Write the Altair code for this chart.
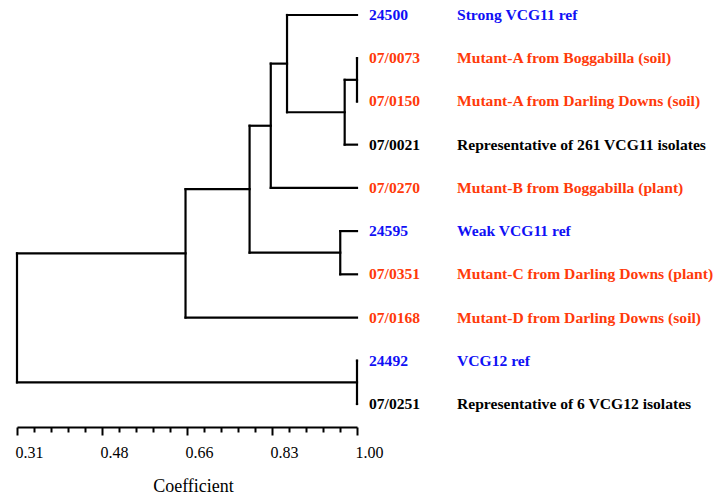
import altair as alt
import pandas as pd

# Leaves, top to bottom
codes = ["24500", "07/0073", "07/0150", "07/0021", "07/0270",
         "24595", "07/0351", "07/0168", "24492", "07/0251"]
descriptions = ["Strong VCG11 ref",
                "Mutant-A from Boggabilla (soil)",
                "Mutant-A from Darling Downs (soil)",
                "Representative of 261 VCG11 isolates",
                "Mutant-B from Boggabilla (plant)",
                "Weak VCG11 ref",
                "Mutant-C from Darling Downs (plant)",
                "Mutant-D from Darling Downs (soil)",
                "VCG12 ref",
                "Representative of 6 VCG12 isolates"]
groups = ["ref", "mutant", "mutant", "rep", "mutant",
          "ref", "mutant", "mutant", "ref", "rep"]

# Merges: (child a, child b, coefficient); leaves are 0-9, new nodes 10+
merge_a = [1, 10, 0, 12, 5, 13, 15, 8, 16]
merge_b = [2, 3, 11, 4, 6, 14, 7, 9, 17]
merge_coef = [1.00, 0.975, 0.858, 0.825, 0.966, 0.782, 0.652, 1.00, 0.31]

tick_values = [0.31, 0.3445, 0.379, 0.4135, 0.448, 0.4825, 0.517, 0.5515,
               0.586, 0.6205, 0.655, 0.6895, 0.724, 0.7585, 0.793, 0.8275,
               0.862, 0.8965, 0.931, 0.9655, 1.0]
major_ticks = [0.31, 0.4825, 0.655, 0.8275, 1.0]

# Build tree geometry
n = len(codes)
node_x = {i: 1.0 for i in range(n)}
node_y = {i: float(i) for i in range(n)}
segs = []
for k, (a, b, c) in enumerate(zip(merge_a, merge_b, merge_coef)):
    nid = n + k
    node_x[nid] = c
    node_y[nid] = (node_y[a] + node_y[b]) / 2
    # vertical
    segs.append(dict(x=c, x2=c, y=node_y[a], y2=node_y[b]))
    # horizontals to children
    for ch in (a, b):
        segs.append(dict(x=c, x2=node_x[ch], y=node_y[ch], y2=node_y[ch]))
seg_df = pd.DataFrame(segs)

leaf_df = pd.DataFrame({"code": codes, "desc": descriptions,
                        "group": groups, "y": list(range(n)),
                        "x": [1.0] * n})

xscale = alt.Scale(domain=[0.31, 1.0], nice=False, zero=False)
yscale = alt.Scale(domain=[-0.347, 9.533], reverse=True, nice=False, zero=False)
cscale = alt.Scale(domain=["ref", "mutant", "rep"],
                   range=["#1010f5", "#ff3a0a", "#000000"])

major_list = ",".join(str(v) for v in major_ticks)
is_major = f"indexof([{major_list}], datum.value) >= 0"

xaxis = alt.Axis(
    values=tick_values,
    tickCount=50,
    labelOverlap=False,
    labelExpr=f"{is_major} ? format(datum.value, '.2f') : ''",
    tickSize={"condition": {"test": is_major, "value": 8}, "value": 5},
    grid=False,
    domainColor="black", domainWidth=2,
    tickColor="black", tickWidth=2,
    labelFont="Liberation Serif", labelFontSize=16, labelColor="black",
    labelAlign="left", labelOffset=-2, labelBaseline="middle", labelPadding=17,
    title="Coefficient", titleFont="Liberation Serif", titleFontSize=18,
    titleFontWeight="normal", titleColor="black",
    titleX=176, titleY=59, titleAlign="center", titleBaseline="middle",
)

lines = alt.Chart(seg_df).mark_rule(
    color="black", strokeWidth=2.2, strokeCap="square"
).encode(
    x=alt.X("x:Q", scale=xscale, axis=xaxis),
    x2="x2:Q",
    y=alt.Y("y:Q", scale=yscale, axis=None),
    y2="y2:Q",
)

code_text = alt.Chart(leaf_df).mark_text(
    align="left", baseline="middle", dx=12,
    font="Liberation Serif", fontSize=15.6, fontWeight="bold"
).encode(
    x=alt.X("x:Q", scale=xscale),
    y=alt.Y("y:Q", scale=yscale),
    text="code:N",
    color=alt.Color("group:N", scale=cscale, legend=None),
)

desc_text = alt.Chart(leaf_df).mark_text(
    align="left", baseline="middle", dx=100,
    font="Liberation Serif", fontSize=15.6, fontWeight="bold"
).encode(
    x=alt.X("x:Q", scale=xscale),
    y=alt.Y("y:Q", scale=yscale),
    text="desc:N",
    color=alt.Color("group:N", scale=cscale, legend=None),
)

chart = alt.layer(lines, code_text, desc_text).properties(
    width=340, height=427,
    autosize=alt.AutoSizeParams(type="none"),
    padding={"left": 17, "top": 0, "right": 357, "bottom": 75},
    background="white",
).configure_view(stroke=None)

chart.save("out.html", embed_options={"renderer": "svg", "actions": False})
